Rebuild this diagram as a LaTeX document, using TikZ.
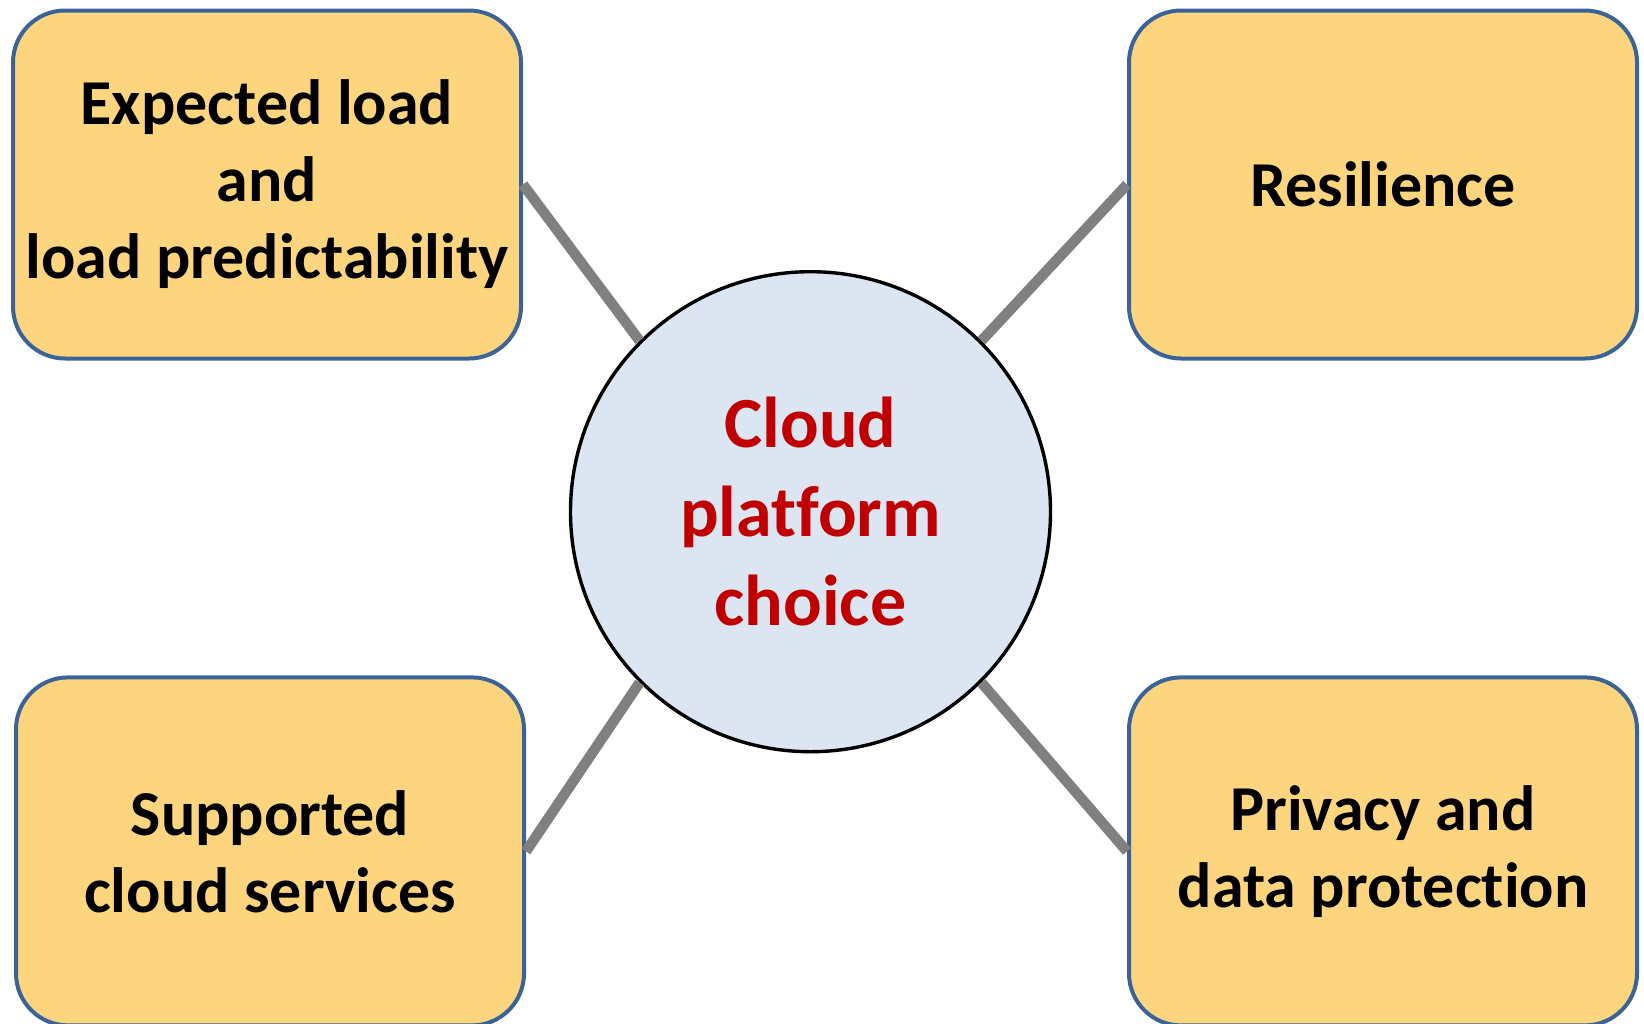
\documentclass[tikz,border=0pt]{standalone}
\usepackage{fontspec}
\setmainfont{Carlito}[Ligatures=NoCommon]
\usepackage{xcolor}
\usepackage{tikz}
\definecolor{boxfill}{HTML}{FDD57E}
\definecolor{boxline}{HTML}{3A6497}
\definecolor{hubfill}{HTML}{DCE6F2}
\definecolor{hubtext}{HTML}{C00000}
\definecolor{linkgray}{HTML}{808080}

\begin{document}
\begin{tikzpicture}[x=0.5pt, y=-0.5pt,
    factor/.style={draw=boxline, line width=2pt, fill=boxfill, rounded corners=26pt,
      minimum width=254pt, minimum height=174pt, inner sep=0pt, align=center,
      font=\bfseries\fontsize{32}{38.5}\selectfont},
    hub/.style={circle, draw=black, line width=1.7pt, fill=hubfill, minimum size=240pt,
      inner sep=0pt, align=center, text=hubtext,
      font=\bfseries\fontsize{36}{44.5}\selectfont},
    link/.style={draw=linkgray, line width=5.2pt}]
    \useasboundingbox (0,0) rectangle (1644,1023);
    \node[hub] (choice) at (810.5,511.7) {Cloud\\platform\\choice};
    \node[factor] (load) at (267,184.5) {Expected load\\and\\load predictability};
    \node[factor] (resil) at (1383,184.5) {Resilience};
    \node[factor] (serv) at (270,851.4) {Supported\\cloud services};
    \node[factor] (priv) at (1383,851.4) {Privacy and\\data protection};
    \draw[link] (choice.135) -- (load.east);
    \draw[link] (choice.45) -- (resil.west);
    \draw[link] (choice.225) -- (serv.east);
    \draw[link] (choice.-45) -- (priv.west);
  \end{tikzpicture}
\end{document}
